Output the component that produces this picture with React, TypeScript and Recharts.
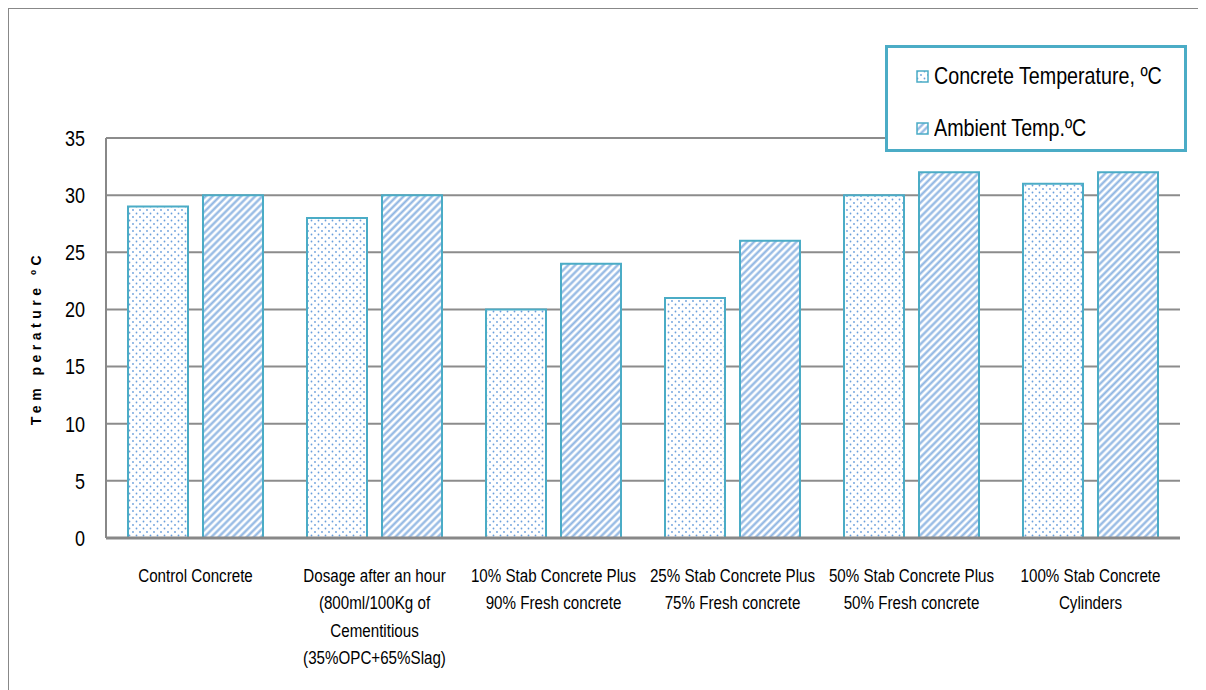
import React from 'react';
import { BarChart, Bar, XAxis, YAxis, CartesianGrid, Legend } from 'recharts';

// Categories (line breaks as in the original axis labels)
const categories = [
  'Control Concrete',
  'Dosage after an hour\n(800ml/100Kg of\nCementitious\n(35%OPC+65%Slag)',
  '10% Stab Concrete Plus\n90% Fresh concrete',
  '25% Stab Concrete Plus\n75% Fresh concrete',
  '50% Stab Concrete Plus\n50% Fresh concrete',
  '100% Stab Concrete\nCylinders',
];

const concreteTemp = [29, 28, 20, 21, 30, 31];
const ambientTemp = [30, 30, 24, 26, 32, 32];
const yTicks = [0, 5, 10, 15, 20, 25, 30, 35];

const data = categories.map((name, i) => ({
  name,
  concrete: concreteTemp[i],
  ambient: ambientTemp[i],
}));

// no narrow font installed, so squeeze Liberation Sans horizontally
const FONT = '"Liberation Sans", Arial, sans-serif';
const NARROW = 0.82;
const EDGE = '#4bacc6';
const DOT = '#6a9fdc';
const STRIPE = '#8db4e2';

const Patterns = ({ prefix }: { prefix: string }) => (
  <defs>
    <pattern id={`${prefix}dots`} width="7" height="7" patternUnits="userSpaceOnUse">
      <rect width="7" height="7" fill="#fff" />
      <circle cx="1.5" cy="1.5" r="0.9" fill={DOT} />
      <circle cx="5" cy="5" r="0.9" fill={DOT} />
    </pattern>
    <pattern
      id={`${prefix}stripes`}
      width="5"
      height="5"
      patternUnits="userSpaceOnUse"
      patternTransform="rotate(45)"
    >
      <rect width="5" height="5" fill="#fff" />
      <line x1="1.5" y1="0" x2="1.5" y2="5" stroke={STRIPE} strokeWidth="2.2" />
    </pattern>
  </defs>
);

const CategoryTick = (props: any) => {
  const { x, y, payload } = props;
  const lines: string[] = String(payload.value).split('\n');
  return (
    <g transform={`translate(${x},${y}) scale(${NARROW},1)`}>
      <text textAnchor="middle" fill="#000" fontSize={18.5} fontFamily={FONT}>
        {lines.map((line, i) => (
          <tspan key={i} x={0} y={44 + i * 27.5}>
            {line}
          </tspan>
        ))}
      </text>
    </g>
  );
};

const ValueTick = (props: any) => {
  const { x, y, payload } = props;
  return (
    <g transform={`translate(${x},${y}) scale(${NARROW},1)`}>
      <text textAnchor="end" dy="0.36em" fill="#000" fontSize={22} fontFamily={FONT}>
        {payload.value}
      </text>
    </g>
  );
};

const legendItems = [
  { label: 'Concrete Temperature, ºC', fill: 'url(#lgdots)' },
  { label: 'Ambient Temp.ºC', fill: 'url(#lgstripes)' },
];

const LegendBox = () => (
  <div
    style={{
      width: 296,
      height: 101,
      border: `3px solid ${EDGE}`,
      background: '#fff',
      fontFamily: FONT,
      fontSize: 24,
      color: '#000',
      boxSizing: 'content-box',
    }}
  >
    {legendItems.map((item, i) => (
      <div
        key={item.label}
        style={{ display: 'flex', alignItems: 'center', height: 26, marginTop: i === 0 ? 15 : 26, paddingLeft: 28, whiteSpace: 'nowrap' }}
      >
        <svg width="13" height="13" style={{ marginRight: 5, flexShrink: 0 }}>
          <Patterns prefix="lg" />
          <rect x="1" y="1" width="11" height="11" fill={item.fill} stroke={EDGE} strokeWidth="1.5" />
        </svg>
        <span style={{ display: 'inline-block', transform: `scaleX(${NARROW})`, transformOrigin: 'left center' }}>
          {item.label}
        </span>
      </div>
    ))}
  </div>
);

export default function App() {
  return (
    <div
      style={{
        width: 1198,
        height: 681,
        border: '2px solid #888',
        borderRight: 'none',
        borderBottom: 'none',
        background: '#fff',
        position: 'relative',
        marginTop: -1,
        marginLeft: -1,
        overflow: 'hidden',
      }}
    >
      <BarChart
        width={1196}
        height={681}
        data={data}
        margin={{ top: 129, right: 25, bottom: 1, left: 0 }}
        barSize={60}
        barGap={15}
      >
        <Patterns prefix="ch" />
        <CartesianGrid vertical={false} stroke="#8c8c8c" strokeWidth={2} />
        <XAxis
          dataKey="name"
          height={151}
          tickLine={false}
          tickSize={0}
          tickMargin={0}
          axisLine={{ stroke: '#888', strokeWidth: 3 }}
          tick={<CategoryTick />}
          interval={0}
        />
        <YAxis
          width={97}
          domain={[0, 35]}
          ticks={yTicks}
          tickLine={false}
          tickSize={0}
          tickMargin={21}
          axisLine={{ stroke: '#888', strokeWidth: 2 }}
          tick={<ValueTick />}
          label={{
            value: 'Tem perature ºC',
            angle: -90,
            position: 'insideLeft',
            offset: 27,
            style: {
              textAnchor: 'middle',
              fontFamily: FONT,
              fontWeight: 'bold',
              fontSize: 14,
              letterSpacing: 4.5,
              fill: '#000',
            },
          }}
        />
        <Legend
          layout="horizontal"
          verticalAlign="middle"
          align="center"
          wrapperStyle={{ position: 'absolute', top: 36, left: 876, width: 302 }}
          content={() => <LegendBox />}
        />
        <Bar
          dataKey="concrete"
          name="Concrete Temperature, ºC"
          fill="url(#chdots)"
          stroke={EDGE}
          strokeWidth={2}
          isAnimationActive={false}
        />
        <Bar
          dataKey="ambient"
          name="Ambient Temp.ºC"
          fill="url(#chstripes)"
          stroke={EDGE}
          strokeWidth={2}
          isAnimationActive={false}
        />
      </BarChart>
    </div>
  );
}
